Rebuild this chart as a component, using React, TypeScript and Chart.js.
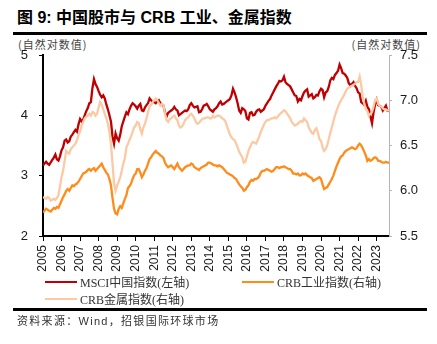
import React, { useEffect, useRef } from "react";
import { Chart, registerables } from "chart.js";

Chart.register(...registerables);

// Monthly observations, Jan 2005 .. Sep 2023
const startYear = 2005;
const yearTicks = [2005, 2006, 2007, 2008, 2009, 2010, 2011, 2012, 2013, 2014, 2015, 2016, 2017, 2018, 2019, 2020, 2021, 2022, 2023];

const msciChina = [
  3.17, 3.2, 3.23, 3.2, 3.18, 3.22, 3.26, 3.3, 3.35, 3.27, 3.25, 3.32,
  3.42, 3.47, 3.58, 3.6, 3.55, 3.57, 3.65, 3.68, 3.72, 3.76, 3.73, 3.85,
  3.94, 3.9, 3.93, 4.0, 4.07, 4.12, 4.2, 4.22, 4.45, 4.6, 4.52, 4.47,
  4.4, 4.34, 4.3, 4.33, 4.28, 4.18, 4.1, 4.0, 3.9, 3.65, 3.53, 3.7,
  3.62, 3.58, 3.68, 3.82, 3.9, 3.98, 4.05, 4.02, 4.1, 4.16, 4.2, 4.18,
  4.15, 4.11, 4.16, 4.19, 4.08, 4.07, 4.13, 4.17, 4.2, 4.28, 4.25, 4.22,
  4.22, 4.2, 4.23, 4.25, 4.2, 4.18, 4.16, 4.05, 3.98, 4.04, 4.06, 4.08,
  4.1, 4.14, 4.1, 4.08, 4.0, 4.02, 4.04, 4.06, 4.08, 4.07, 4.1, 4.17,
  4.2, 4.16, 4.13, 4.14, 4.15, 4.05, 4.06, 4.1, 4.16, 4.17, 4.19, 4.15,
  4.1, 4.08, 4.06, 4.1, 4.12, 4.15, 4.2, 4.23, 4.18, 4.19, 4.21, 4.23,
  4.25, 4.27, 4.33, 4.44, 4.38, 4.3, 4.2, 4.08, 4.04, 4.12, 4.1, 4.07,
  3.95, 3.93, 4.04, 4.05, 4.0, 4.01, 4.06, 4.09, 4.1, 4.06, 4.08, 4.1,
  4.16, 4.2, 4.24, 4.27, 4.33, 4.38, 4.43, 4.48, 4.52, 4.57, 4.56, 4.58,
  4.64, 4.55, 4.52, 4.5, 4.48, 4.43, 4.38, 4.33, 4.32, 4.23, 4.27, 4.25,
  4.32, 4.38, 4.41, 4.43, 4.31, 4.33, 4.35, 4.28, 4.3, 4.34, 4.33, 4.4,
  4.44, 4.42, 4.3, 4.38, 4.4, 4.47, 4.58, 4.62, 4.6, 4.67, 4.7, 4.74,
  4.84, 4.78, 4.7, 4.69, 4.66, 4.62, 4.53, 4.5, 4.52, 4.55, 4.49, 4.45,
  4.38, 4.36, 4.22, 4.2, 4.17, 4.24, 4.14, 4.1, 3.98, 3.87, 4.05, 4.18,
  4.26, 4.17, 4.16, 4.14, 4.08, 4.12, 4.16, 4.08, 4.07,
];

const crbIndustrial = [
  5.76, 5.78, 5.8, 5.79, 5.78, 5.77, 5.79, 5.81, 5.8, 5.82, 5.81, 5.85,
  5.89, 5.93, 5.96, 6.0, 6.02, 6.0, 6.03, 6.06, 6.05, 6.07, 6.08, 6.1,
  6.13, 6.16, 6.19, 6.2, 6.21, 6.23, 6.24, 6.22, 6.24, 6.25, 6.22, 6.24,
  6.26, 6.28, 6.3, 6.26, 6.23, 6.2, 6.18, 6.13, 6.06, 5.92, 5.8, 5.75,
  5.74, 5.8, 5.83, 5.81, 5.86, 5.91, 5.95, 6.03, 6.05, 6.08, 6.13, 6.17,
  6.19, 6.24, 6.24, 6.2, 6.15, 6.18, 6.22, 6.25, 6.3, 6.35, 6.37, 6.4,
  6.42, 6.44, 6.42, 6.41, 6.39, 6.38, 6.36, 6.31, 6.28, 6.26, 6.27, 6.28,
  6.26, 6.24, 6.27, 6.3, 6.26, 6.24, 6.22, 6.24, 6.26, 6.27, 6.28, 6.28,
  6.3, 6.29, 6.26, 6.25, 6.24, 6.23, 6.25, 6.26, 6.27, 6.28, 6.29, 6.31,
  6.31, 6.3, 6.29, 6.28, 6.28, 6.27, 6.28, 6.27, 6.26, 6.24, 6.22, 6.2,
  6.19, 6.18, 6.17, 6.16, 6.14, 6.13, 6.1, 6.07, 6.05, 6.03, 6.0, 6.01,
  6.04, 6.06, 6.1, 6.12, 6.11, 6.13, 6.13, 6.14, 6.16, 6.2, 6.22, 6.22,
  6.23, 6.24, 6.23, 6.22, 6.21, 6.22, 6.24, 6.26, 6.26, 6.25, 6.26, 6.26,
  6.27, 6.26, 6.25, 6.24, 6.24, 6.22, 6.19, 6.19, 6.18, 6.19, 6.17, 6.17,
  6.19, 6.18, 6.19, 6.17, 6.16, 6.15, 6.14, 6.11, 6.12, 6.13, 6.14, 6.15,
  6.13, 6.07, 6.02, 6.03, 6.04, 6.07, 6.1, 6.13, 6.17, 6.22, 6.27, 6.31,
  6.35, 6.38, 6.39, 6.42, 6.44, 6.45, 6.46, 6.47, 6.48, 6.47, 6.46, 6.47,
  6.5, 6.52, 6.5, 6.47, 6.43, 6.39, 6.33, 6.35, 6.33, 6.34, 6.36, 6.37,
  6.36, 6.33, 6.33, 6.32, 6.31, 6.31, 6.32, 6.31, 6.31,
];

const crbMetals = [
  5.93, 5.92, 5.91, 5.93, 5.92, 5.89, 5.9, 5.91, 5.9, 5.92, 5.95, 6.05,
  6.15, 6.22, 6.33, 6.44, 6.42, 6.41, 6.46, 6.48, 6.5, 6.52, 6.56, 6.62,
  6.65, 6.72, 6.76, 6.8, 6.82, 6.83, 6.85, 6.83, 6.87, 6.86, 6.83, 6.85,
  6.92, 6.98, 6.95, 6.9, 6.85, 6.8, 6.74, 6.65, 6.52, 6.3, 6.08, 6.0,
  6.06, 6.1, 6.15, 6.22, 6.3, 6.36, 6.48, 6.52, 6.56, 6.6, 6.65, 6.7,
  6.72, 6.76, 6.75, 6.68, 6.63, 6.7, 6.74, 6.8, 6.87, 6.93, 6.95, 6.98,
  7.0, 7.02, 7.0, 6.97, 6.94, 6.96, 6.95, 6.85, 6.78, 6.76, 6.79, 6.8,
  6.82, 6.83, 6.8, 6.78, 6.72, 6.7, 6.71, 6.74, 6.78, 6.8, 6.81, 6.84,
  6.85, 6.83, 6.8, 6.76, 6.74, 6.75, 6.77, 6.79, 6.8, 6.8, 6.81, 6.81,
  6.8, 6.8, 6.83, 6.81, 6.82, 6.83, 6.83, 6.82, 6.8, 6.79, 6.77, 6.72,
  6.67, 6.62, 6.59, 6.57, 6.56, 6.52, 6.48, 6.43, 6.4, 6.37, 6.31, 6.32,
  6.38, 6.44, 6.48, 6.52, 6.54, 6.53, 6.52, 6.56, 6.6, 6.65, 6.69, 6.73,
  6.76, 6.78, 6.78, 6.79, 6.8, 6.8, 6.81, 6.8, 6.82, 6.84, 6.86, 6.87,
  6.89, 6.88, 6.85, 6.83, 6.8, 6.76, 6.74, 6.72, 6.73, 6.74, 6.76, 6.77,
  6.76, 6.8, 6.78, 6.76, 6.7, 6.67, 6.64, 6.63, 6.67, 6.69, 6.64, 6.57,
  6.55, 6.48, 6.44, 6.46, 6.5, 6.57, 6.64, 6.7, 6.77, 6.83, 6.88, 6.93,
  6.97, 7.0, 7.03, 7.06, 7.1, 7.13, 7.14, 7.15, 7.16, 7.17, 7.18, 7.2,
  7.2, 7.26, 7.17, 7.04, 6.96, 6.9, 6.88, 6.83, 6.85, 6.87, 6.93, 7.0,
  7.02, 6.96, 6.94, 6.93, 6.91, 6.9, 6.9, 6.89, 6.88,
];

const seriesNames = ["MSCI中国指数(左轴)", "CRB工业指数(右轴)", "CRB金属指数(右轴)"];
const RED = "#c00000";
const ORANGE = "#ff8c1a";
const PEACH = "#fbcaa4";

const W = 437;
const H = 344;
const CJK = '"Noto Sans CJK SC", sans-serif';
const SANS = '"Liberation Sans", Arial, sans-serif';
const SERIF = '"Liberation Serif", "Noto Sans CJK SC", serif';

function toPoints(values: number[]) {
  return values.map((v, i) => ({ x: startYear + i / 12, y: v }));
}

export default function App() {
  const ref = useRef<HTMLCanvasElement | null>(null);

  useEffect(() => {
    if (!ref.current) return;
    const n = msciChina.length;
    const chart = new Chart(ref.current, {
      type: "line",
      data: {
        datasets: [
          { label: seriesNames[0], data: toPoints(msciChina), yAxisID: "y", borderColor: RED, borderWidth: 2.3, pointRadius: 0, tension: 0, order: 1 },
          { label: seriesNames[1], data: toPoints(crbIndustrial), yAxisID: "y1", borderColor: ORANGE, borderWidth: 2.3, pointRadius: 0, tension: 0, order: 2 },
          { label: seriesNames[2], data: toPoints(crbMetals), yAxisID: "y1", borderColor: PEACH, borderWidth: 2.3, pointRadius: 0, tension: 0, order: 0 },
        ],
      },
      options: {
        responsive: false,
        animation: false,
        events: [],
        layout: { padding: { top: 55, left: 0, right: 0, bottom: 0 } },
        plugins: { legend: { display: false }, tooltip: { enabled: false }, title: { display: false } },
        scales: {
          x: {
            type: "linear",
            min: startYear,
            max: startYear + (n - 1) / 12,
            afterBuildTicks: (s: any) => {
              s.ticks = yearTicks.map((v) => ({ value: v }));
            },
            afterFit: (s: any) => {
              s.height = H - 236;
            },
            grid: { drawOnChartArea: false, drawTicks: true, tickLength: 5, color: "#000", lineWidth: 1 },
            border: { display: true, color: "#000", width: 2 },
            ticks: {
              autoSkip: false,
              maxRotation: 90,
              minRotation: 90,
              padding: 4,
              color: "#1a1a1a",
              font: { family: SANS, size: 12 },
              callback: (v: any) => String(v),
            },
          },
          y: {
            position: "left",
            min: 2,
            max: 5,
            afterFit: (s: any) => {
              s.width = 43;
            },
            grid: { drawOnChartArea: false, drawTicks: true, tickLength: 4, color: "#000" },
            border: { display: true, color: "#000", width: 2 },
            ticks: { stepSize: 1, padding: 11, color: "#1a1a1a", font: { family: SANS, size: 13 } },
          },
          y1: {
            position: "right",
            min: 5.5,
            max: 7.5,
            afterFit: (s: any) => {
              s.width = W - 389;
            },
            grid: { drawOnChartArea: false, drawTicks: true, tickLength: 3, color: "#b5b5b5" },
            border: { display: true, color: "#b5b5b5", width: 1 },
            ticks: {
              stepSize: 0.5,
              padding: 8,
              color: "#1a1a1a",
              font: { family: SANS, size: 13 },
              callback: (v: any) => Number(v).toFixed(1),
            },
          },
        },
      },
    });
    return () => chart.destroy();
  }, []);

  const legendItem = (color: string, text: string, left: number, top: number) => (
    <div style={{ position: "absolute", left, top, height: 16, display: "flex", alignItems: "center" }}>
      <div style={{ width: 32, height: 2.5, background: color, marginRight: 3 }} />
      <span style={{ fontFamily: SERIF, fontSize: 12, color: "#333", whiteSpace: "nowrap" }}>{text}</span>
    </div>
  );

  return (
    <div style={{ position: "absolute", left: 0, top: 0, width: W, height: H, background: "#fff", overflow: "hidden" }}>
      <div style={{ position: "absolute", left: 17, top: 8, fontFamily: `${SANS.split(",")[0]}, ${CJK}`, fontWeight: "bold", fontSize: 16, color: "#000", whiteSpace: "nowrap", lineHeight: "20px" }}>
        图 9: 中国股市与 CRB 工业、金属指数
      </div>
      <div style={{ position: "absolute", left: 13, top: 32, width: 414, height: 2.5, background: "#000" }} />
      <div style={{ position: "absolute", left: 18, top: 36, fontFamily: CJK, fontSize: 11, color: "#444", letterSpacing: 1, whiteSpace: "nowrap", lineHeight: "16px" }}>
        (自然对数值)
      </div>
      <div style={{ position: "absolute", right: 16, top: 36, fontFamily: CJK, fontSize: 11, color: "#444", letterSpacing: 1, whiteSpace: "nowrap", lineHeight: "16px" }}>
        (自然对数值)
      </div>
      <canvas ref={ref} width={W} height={H} style={{ position: "absolute", left: 0, top: 0, width: W, height: H }} />
      {legendItem(RED, seriesNames[0], 45, 274)}
      {legendItem(ORANGE, seriesNames[1], 242, 274)}
      {legendItem(PEACH, seriesNames[2], 45, 291)}
      <div style={{ position: "absolute", left: 13, top: 308, width: 414, height: 2.5, background: "#000" }} />
      <div style={{ position: "absolute", left: 17, top: 313, fontFamily: `${SANS.split(",")[0]}, ${CJK}`, fontSize: 11, color: "#333", letterSpacing: 1.3, whiteSpace: "nowrap", lineHeight: "16px" }}>
        资料来源：Wind，招银国际环球市场
      </div>
    </div>
  );
}
